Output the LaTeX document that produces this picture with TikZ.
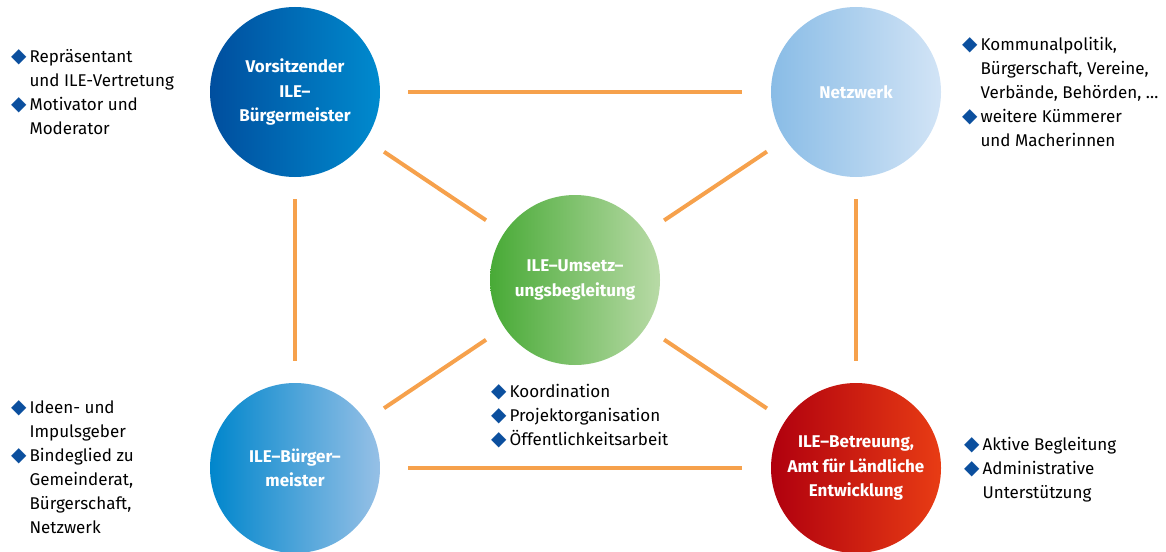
\documentclass[tikz,border=0pt]{standalone}
\usepackage{fontspec}
\setmainfont{Fira Sans}
\newfontfamily\symfont{DejaVu Sans}
\definecolor{spokeorange}{HTML}{F6A14C}
\definecolor{bulletblue}{HTML}{0B4F9E}
\newcommand{\bul}{{\symfont\fontsize{20}{24}\selectfont\color{bulletblue}◆}\hspace{3pt}}
\newcommand{\ind}{\hphantom{\bul}}
\tikzset{
	role/.style = {circle, minimum size=170pt, inner sep=0pt, text=white, align=center,
		font=\bfseries\fontsize{17}{24.5}\selectfont},
	spoke/.style = {draw=spokeorange, line width=4pt, shorten <=22pt, shorten >=22pt},
	tasks/.style = {align=left, inner sep=0pt, anchor=base west,
		font=\fontsize{17}{24}\selectfont}
}
\begin{document}
\begin{tikzpicture}[x=1pt, y=-1pt]
		\useasboundingbox (0,0) rectangle (1166,551);
		\node[role, left color={rgb,255:red,0;green,78;blue,158},
			right color={rgb,255:red,0;green,138;blue,206}] (vorsitz) at (295,92)
			{Vorsitzender\\ILE--\\Bürgermeister};
		\node[role, left color={rgb,255:red,137;green,188;blue,230},
			right color={rgb,255:red,210;green,228;blue,246}] (netzwerk) at (856,92) {Netzwerk};
		\node[role, left color={rgb,255:red,72;green,170;blue,54},
			right color={rgb,255:red,184;green,218;blue,166}] (umsetzung) at (575,280)
			{ILE--Umsetz--\\ungsbegleitung};
		\node[role, left color={rgb,255:red,0;green,134;blue,204},
			right color={rgb,255:red,150;green,192;blue,230}] (buergermeister) at (295,468)
			{ILE--Bürger--\\meister};
		\node[role, left color={rgb,255:red,176;green,0;blue,14},
			middle color={rgb,255:red,222;green,0;blue,16},
			right color={rgb,255:red,232;green,60;blue,20}] (betreuung) at (856,468)
			{ILE--Betreuung,\\Amt für Ländliche\\Entwicklung};

		\draw[spoke, shorten <=28pt, shorten >=29pt] (vorsitz) -- (netzwerk);
		\draw[spoke, shorten <=28pt, shorten >=29pt] (buergermeister) -- (betreuung);
		\draw[spoke] (vorsitz) -- (buergermeister);
		\draw[spoke] (netzwerk) -- (betreuung);
		\draw[spoke] (vorsitz) -- (umsetzung);
		\draw[spoke] (netzwerk) -- (umsetzung);
		\draw[spoke] (buergermeister) -- (umsetzung);
		\draw[spoke] (betreuung) -- (umsetzung);

		\node[tasks] (vorsitzlist) at (11,134)
			{\bul Repräsentant\\\ind und ILE-Vertretung\\\bul Motivator und\\\ind Moderator};
		\node[tasks] (netzwerklist) at (962,146)
			{\bul Kommunalpolitik,\\\ind Bürgerschaft, Vereine,\\\ind Verbände, Behörden, …\\
			\bul weitere Kümmerer\\\ind und Macherinnen};
		\node[tasks] (umsetzunglist) at (491,445)
			{\bul Koordination\\\bul Projektorganisation\\\bul Öffentlichkeitsarbeit};
		\node[tasks] (buergermeisterlist) at (11,533)
			{\bul Ideen- und\\\ind Impulsgeber\\\bul Bindeglied zu\\\ind Gemeinderat,\\
			\ind Bürgerschaft,\\\ind Netzwerk};
		\node[tasks] (betreuunglist) at (964,498)
			{\bul Aktive Begleitung\\\bul Administrative\\\ind Unterstützung};
	\end{tikzpicture}
\end{document}
